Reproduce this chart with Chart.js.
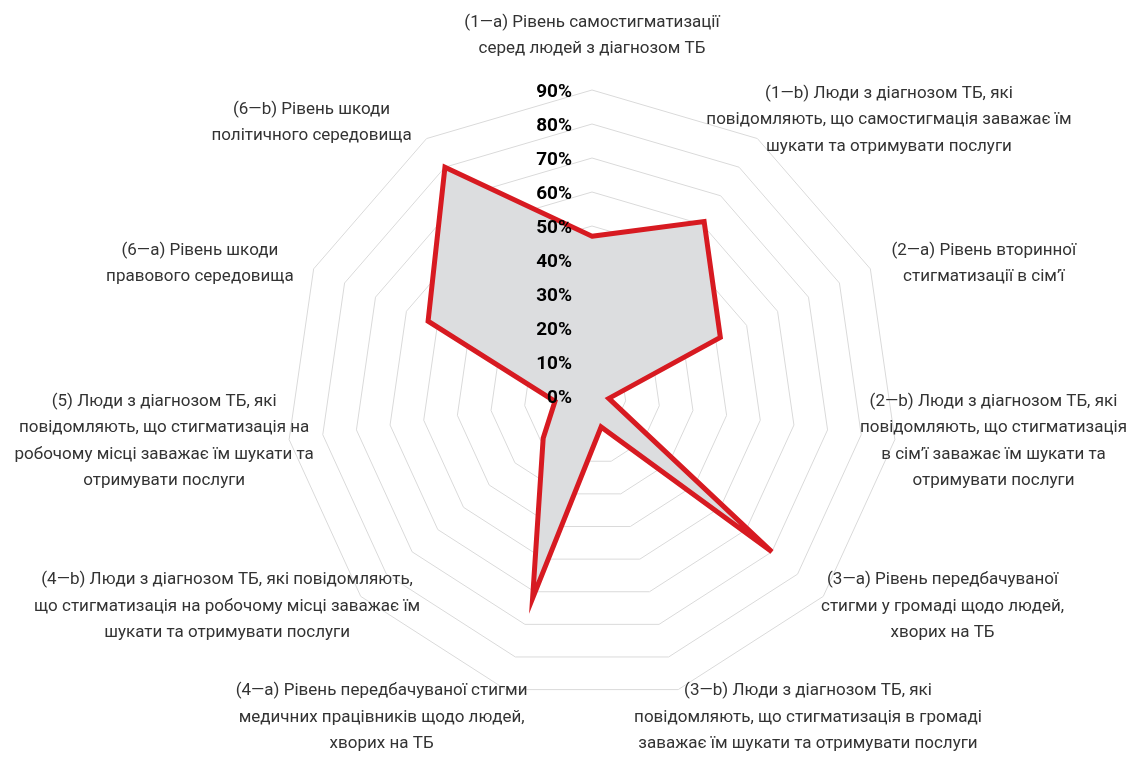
<!DOCTYPE html>
<html>
<head>
<meta charset="utf-8">
<script src="https://cdn.jsdelivr.net/npm/chart.js@4/dist/chart.umd.min.js"></script>
<style>
html,body{margin:0;padding:0;background:#fff;}
#wrap{width:1129px;height:760px;position:relative;}
</style>
</head>
<body>
<div id="wrap"><canvas id="c"></canvas></div>
<script>
const categories = [
["(1—a) Рівень самостигматизації","серед людей з діагнозом ТБ"],
["(1—b) Люди з діагнозом ТБ, які","повідомляють, що самостигмація заважає їм","шукати та отримувати послуги"],
["(2—a) Рівень вторинної","стигматизації в сім’ї"],
["(2—b) Люди з діагнозом ТБ, які","повідомляють, що стигматизація","в сім’ї заважає їм шукати та","отримувати послуги"],
["(3—a) Рівень передбачуваної","стигми у громаді щодо людей,","хворих на ТБ"],
["(3—b) Люди з діагнозом ТБ, які","повідомляють, що стигматизація в громаді","заважає їм шукати та отримувати послуги"],
["(4—a) Рівень передбачуваної стигми","медичних працівників щодо людей,","хворих на ТБ"],
["(4—b) Люди з діагнозом ТБ, які повідомляють,","що стигматизація на робочому місці заважає їм","шукати та отримувати послуги"],
["(5) Люди з діагнозом ТБ, які","повідомляють, що стигматизація на","робочому місці заважає їм шукати та","отримувати послуги"],
["(6—a) Рівень шкоди","правового середовища"],
["(6—b) Рівень шкоди","політичного середовища"]
]
const values = [47, 61, 41.5, 5, 70, 9.5, 62, 19, 11, 53, 80]
const tickValues = [0, 10, 20, 30, 40, 50, 60, 70, 80, 90]
const tickLabels = ["0%","10%","20%","30%","40%","50%","60%","70%","80%","90%"]

// draws tick labels and the category labels
const labelsPlugin = {
id:"labels",
afterDatasetsDraw(chart){
const ctx = chart.ctx
const scale = chart.scales.r

ctx.save()
ctx.fillStyle = "#000"
ctx.font = "bold 19px Roboto"
ctx.textAlign = "right"
ctx.textBaseline = "middle"
tickValues.forEach((v,i)=>{
const y = scale.yCenter - scale.getDistanceFromCenterForValue(v)
ctx.fillText(tickLabels[i], scale.xCenter - 20, y + 2)
})

ctx.font = "17px Roboto"
ctx.fillStyle = "#333"
ctx.textAlign = "center"
const lh = 26.5
chart.data.labels.forEach((lines,i)=>{
const a = scale.getIndexAngle(i)
const v = scale.getPointPosition(i, scale.drawingArea)
const p = scale.getPointPosition(i, scale.drawingArea + 12)
const s = Math.sin(a), c = Math.cos(a)
const w = Math.max(...lines.map(t=>ctx.measureText(t).width))
const h = lines.length * lh
let cx = v.x, cy
if(Math.abs(s) < 0.05){
cy = p.y - Math.sign(c) * (h/2 + 16)
}else{
cx += Math.sign(s) * (95 + 0.1 * w)
cy = p.y - Math.pow(c,5) * h / 4
}
cx = Math.min(Math.max(cx, w/2 + 2), chart.width - w/2 - 2)
lines.forEach((t,j)=>{
ctx.fillText(t, cx, cy - h/2 + lh*(j + 0.5))
})
})
ctx.restore()
}
}

const ctx = document.getElementById("c").getContext("2d")
new Chart(ctx,{
type:"radar",
data:{
labels:categories,
datasets:[
{
data:values,
borderColor:"#d71a21",
backgroundColor:"#dcdddf",
borderWidth:5,
borderJoinStyle:"miter",
pointRadius:0,
fill:true
}
]
},
options:{
responsive:true,
maintainAspectRatio:false,
animation:false,
layout:{padding:{left:286,right:231,top:90,bottom:58}},
plugins:{legend:{display:false},tooltip:{enabled:false}},
scales:{
r:{
min:0,
max:90,
ticks:{display:false,stepSize:10},
pointLabels:{display:false},
angleLines:{display:false},
grid:{color:"#dadada",lineWidth:1}
}
}
},
plugins:[labelsPlugin]
})
</script>
</body>
</html>
